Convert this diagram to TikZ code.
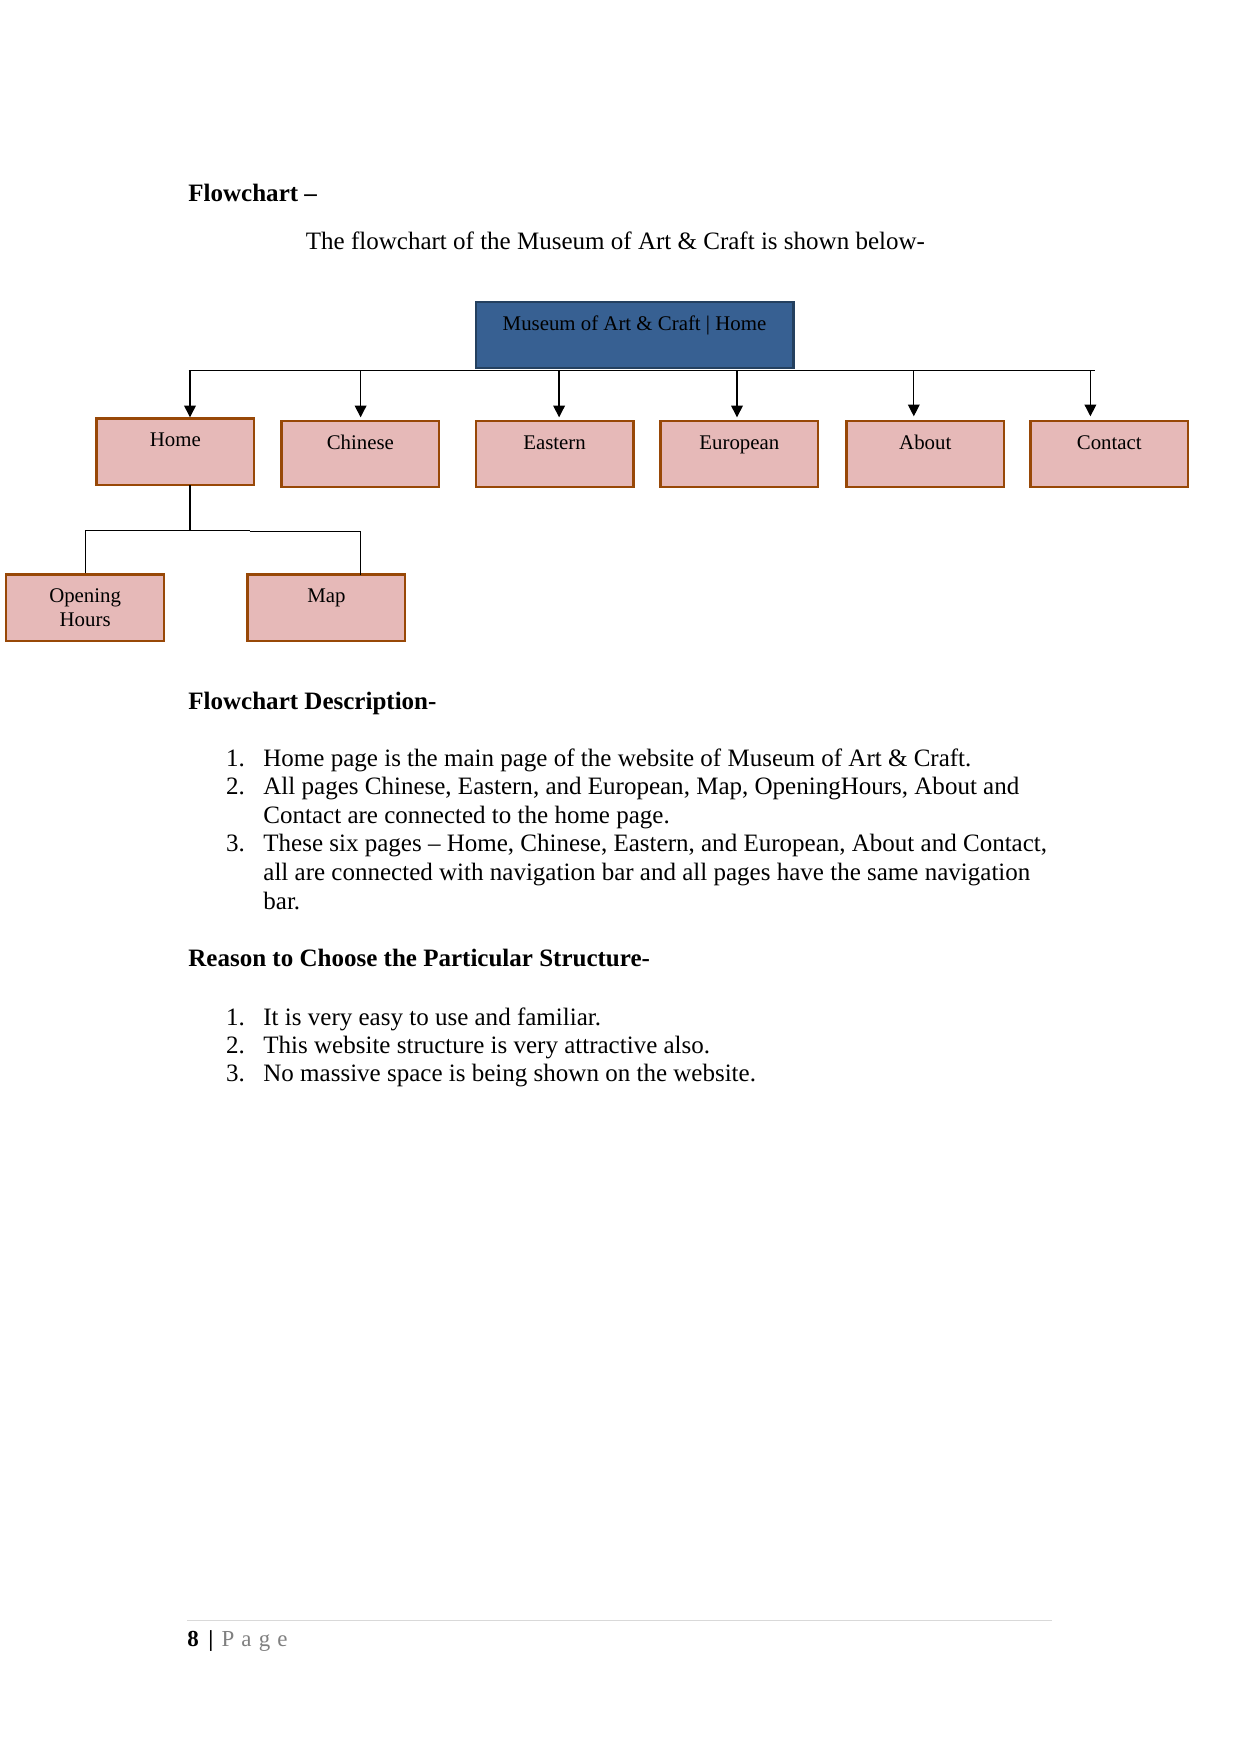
\documentclass[tikz,border=0pt]{standalone}
\usepackage{fontspec}
\setmainfont{Liberation Serif}
\usetikzlibrary{arrows.meta}
\definecolor{pinkfill}{HTML}{E6B9B8}
\definecolor{brownline}{HTML}{984807}
\definecolor{bluefill}{HTML}{376092}
\definecolor{blueline}{HTML}{24405F}
\definecolor{footgray}{HTML}{808080}
\definecolor{rulegray}{HTML}{D9D9D9}
\begin{document}
\begin{tikzpicture}[x=0.47968pt,y=-0.47968pt,
 pbox/.style={draw=brownline, fill=pinkfill, line width=1.1pt, minimum width=75.65pt, minimum height=31.95pt, inner sep=0pt},
 mbox/.style={draw=blueline, fill=bluefill, line width=1.1pt, minimum width=152.4pt, minimum height=31.7pt, inner sep=0pt},
 blabel/.style={anchor=base, inner sep=0pt, font=\fontsize{10}{11.5}\selectfont},
 body/.style={anchor=base west, inner sep=0pt, font=\fontsize{12}{14}\selectfont},
 head/.style={anchor=base west, inner sep=0pt, font=\fontsize{12}{14}\selectfont\bfseries},
 conn/.style={line width=0.6pt, black},
 arr/.style={conn, -{Triangle[width=5.6pt,length=5.6pt]}}
]
\useasboundingbox[fill=white] (0,0) rectangle (1241,1754);

% headings
\node[head] (h1) at (188,201.7) {Flowchart –};
\node[body] (intro) at (305.5,249.3) {The flowchart of the Museum of Art \& Craft is shown below-};

% boxes
\node[mbox] (museum) at (634.5,335) {};
\node[blabel] (museumt) at (634.5,330) {Museum of Art \& Craft | Home};

\node[pbox] (home) at (175.35,451.65) {};
\node[pbox] (chinese) at (360.4,454) {};
\node[pbox] (eastern) at (554.55,454) {};
\node[pbox] (european) at (739.4,454) {};
\node[pbox] (about) at (925.25,454) {};
\node[pbox] (contact) at (1109.3,454) {};
\node[pbox] (opening) at (85.15,607.85) {};
\node[pbox] (map) at (326.4,607.85) {};

\node[blabel] (homet) at (175.35,446.7) {Home};
\node[blabel] (chineset) at (360.4,449.3) {Chinese};
\node[blabel] (easternt) at (554.55,449.3) {Eastern};
\node[blabel] (europeant) at (739.4,449.3) {European};
\node[blabel] (aboutt) at (925.25,449.3) {About};
\node[blabel] (contactt) at (1109.3,449.3) {Contact};
\node[blabel] (openingt) at (85.15,602.7) {Opening};
\node[blabel] (hourst) at (85.15,626.7) {Hours};
\node[blabel] (mapt) at (326.4,602.7) {Map};

% top bar
\coordinate (barL) at (188.5,370.4);
\coordinate (barR) at (1094.5,370.4);
\draw[conn] (barL) -- (barR);
\coordinate (t1) at (190,370.4);
\coordinate (t2) at (360.6,370.4);
\coordinate (t3) at (559.1,370.4);
\coordinate (t4) at (737,370.4);
\coordinate (t5) at (913.8,370.4);
\coordinate (t6) at (1090.4,370.4);
\coordinate (e1) at (190,417.3);
\coordinate (e2) at (360.6,417.3);
\coordinate (e3) at (559.1,417.3);
\coordinate (e4) at (737,417.3);
\coordinate (e5) at (913.8,416.3);
\coordinate (e6) at (1090.4,416.3);
\draw[arr] (t1) -- (e1);
\draw[arr] (t2) -- (e2);
\draw[arr] (t3) -- (e3);
\draw[arr] (t4) -- (e4);
\draw[arr] (t5) -- (e5);
\draw[arr] (t6) -- (e6);

% home children
\coordinate (hs) at (190,485);
\coordinate (hj) at (190,530.3);
\coordinate (jm) at (249.5,530.3);
\coordinate (jm2) at (249.5,531.3);
\coordinate (mj) at (360.6,531.3);
\coordinate (mt) at (360.6,574.7);
\draw[conn] (hs) -- (hj);
\draw[conn] (opening.north) -- (opening.north |- hj) -- (jm);
\draw[conn] (jm2) -- (mj) -- (mt);

% description
\node[head] (h2) at (188,709.3) {Flowchart Description-};
\node[body] (n1) at (225.7,766) {1.};
\node[body] (l1) at (263,766) {Home page is the main page of the website of Museum of Art \& Craft.};
\node[body] (n2) at (225.7,794.65) {2.};
\node[body] (l2) at (263,794.65) {All pages Chinese, Eastern, and European, Map, OpeningHours, About and};
\node[body] (l2b) at (263,823.3) {Contact are connected to the home page.};
\node[body] (n3) at (225.7,851.95) {3.};
\node[body] (l3) at (263,851.95) {These six pages – Home, Chinese, Eastern, and European, About and Contact,};
\node[body] (l3b) at (263,880.6) {all are connected with navigation bar and all pages have the same navigation};
\node[body] (l3c) at (263,909.25) {bar.};

\node[head] (h3) at (188,966.7) {Reason to Choose the Particular Structure-};
\node[body] (r1n) at (225.7,1025) {1.};
\node[body] (r1) at (263,1025) {It is very easy to use and familiar.};
\node[body] (r2n) at (225.7,1053.3) {2.};
\node[body] (r2) at (263,1053.3) {This website structure is very attractive also.};
\node[body] (r3n) at (225.7,1081.7) {3.};
\node[body] (r3) at (263,1081.7) {No massive space is being shown on the website.};

% footer
\coordinate (fl) at (187,1620.7);
\coordinate (fr) at (1052,1620.7);
\draw[rulegray, line width=0.6pt] (fl) -- (fr);
\node[anchor=base west, inner sep=0pt, font=\fontsize{11}{13}\selectfont] (foot) at (187,1646.7) {\textbf{8}\hspace{4.5pt}\textbf{|}\hspace{4pt}\textcolor{footgray}{P\hspace{3.4pt}a\hspace{3.4pt}g\hspace{3.4pt}e}};
\end{tikzpicture}
\end{document}
